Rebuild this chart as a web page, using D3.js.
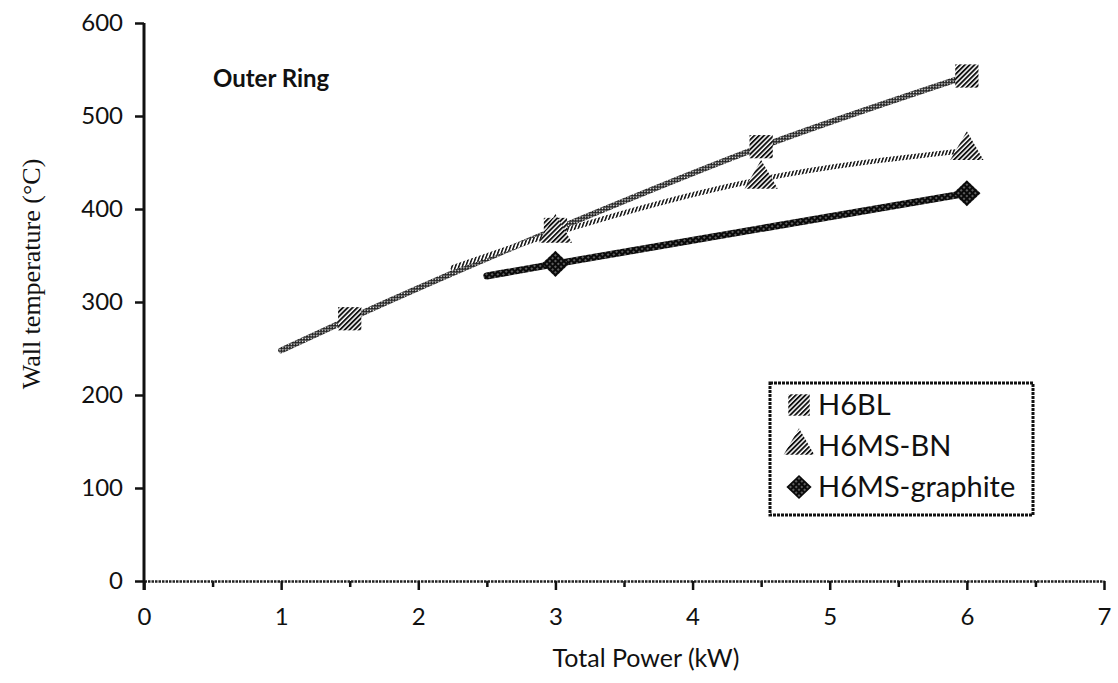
<!DOCTYPE html>
<html>
<head>
<meta charset="utf-8">
<script src="https://cdn.jsdelivr.net/npm/d3@7"></script>
<style>
  body { margin: 0; background: #fff; }
  svg { display: block; }
  text { fill: #111; }
</style>
</head>
<body>
<svg width="1118" height="683"></svg>
<script>
// values
const powerBL = [1, 1.5, 3, 4.5, 6];
const tempBL  = [248, 282, 378, 467, 543];
const markBL  = [0, 1, 1, 1, 1];

const powerBN = [2.25, 3, 4.5, 6];
const tempBN  = [337, 374, 432, 463];
const markBN  = [0, 1, 1, 1];

const powerGR = [2.5, 3, 6];
const tempGR  = [328, 341, 417];
const markGR  = [0, 1, 1];

const seriesNames = ["H6BL", "H6MS-BN", "H6MS-graphite"];
const xTicks = [0, 1, 2, 3, 4, 5, 6, 7];
const xMinor = [0.5, 1.5, 2.5, 3.5, 4.5, 5.5, 6.5];
const yTicks = [0, 100, 200, 300, 400, 500, 600];

const margin = {top: 23, right: 14, bottom: 102, left: 144};
const W = 1118, H = 683;

const svg = d3.select("svg");

const x = d3.scaleLinear().domain([0, 7]).range([margin.left, W - margin.right]);
const y = d3.scaleLinear().domain([0, 600]).range([H - margin.bottom, margin.top]);

// square turned on its corner, a bit wider than d3's diamond
const symbolRhomb = {
  draw(ctx, size) {
    const r = Math.sqrt(size / 2);
    ctx.moveTo(0, -r);
    ctx.lineTo(r * 1.05, 0);
    ctx.lineTo(0, r);
    ctx.lineTo(-r * 1.05, 0);
    ctx.closePath();
  }
};

// textures that imitate the scanned fills
const defs = svg.append("defs");

function stripes(id, angle, on, period) {
  const p = defs.append("pattern")
    .attr("id", id)
    .attr("patternUnits", "userSpaceOnUse")
    .attr("width", period).attr("height", period)
    .attr("patternTransform", `rotate(${angle})`);
  p.append("rect").attr("width", period).attr("height", period).attr("fill", "#fff");
  p.append("rect").attr("width", on).attr("height", period).attr("fill", "#111");
}
stripes("markHatch", 45, 1.9, 3.4);
stripes("lineBN", 20, 1.5, 3.2);

const chk = defs.append("pattern")
  .attr("id", "lineBL")
  .attr("patternUnits", "userSpaceOnUse")
  .attr("width", 4).attr("height", 4)
  .attr("patternTransform", "rotate(45)");
chk.append("rect").attr("width", 4).attr("height", 4).attr("fill", "#222");
chk.append("rect").attr("x", 0.6).attr("y", 0.6).attr("width", 1.4).attr("height", 1.4).attr("fill", "#fff");
chk.append("rect").attr("x", 2.6).attr("y", 2.6).attr("width", 1.4).attr("height", 1.4).attr("fill", "#fff");

const dots = defs.append("pattern")
  .attr("id", "darkDots")
  .attr("patternUnits", "userSpaceOnUse")
  .attr("width", 4).attr("height", 4)
  .attr("patternTransform", "rotate(45)");
dots.append("rect").attr("width", 4).attr("height", 4).attr("fill", "#0a0a0a");
dots.append("circle").attr("cx", 2).attr("cy", 2).attr("r", 0.8).attr("fill", "#ccc");

// axes
const yAxis = svg.append("g")
  .attr("transform", `translate(${margin.left},0)`)
  .call(d3.axisLeft(y).tickValues(yTicks).tickSize(9).tickSizeOuter(0).tickPadding(12));
yAxis.select(".domain").remove();
yAxis.selectAll(".tick line").attr("stroke", "#111").attr("stroke-width", 2.5);
yAxis.selectAll(".tick text")
  .attr("font-family", "Lato, sans-serif").attr("font-size", 24).attr("fill", "#111");

svg.append("line")
  .attr("x1", margin.left).attr("x2", margin.left)
  .attr("y1", y(600)).attr("y2", y(0) + 9)
  .attr("stroke", "#111").attr("stroke-width", 3);

const xMinorAxis = svg.append("g")
  .attr("transform", `translate(0,${y(0)})`)
  .call(d3.axisBottom(x).tickValues(xMinor).tickSize(6).tickFormat(""));
xMinorAxis.select(".domain").remove();
xMinorAxis.selectAll(".tick line").attr("stroke", "#111").attr("stroke-width", 2.5);

const xAxis = svg.append("g")
  .attr("transform", `translate(0,${y(0)})`)
  .call(d3.axisBottom(x).tickValues(xTicks).tickFormat(d3.format("d"))
    .tickSize(9).tickSizeOuter(0).tickPadding(18));
xAxis.select(".domain")
  .attr("stroke", "#222").attr("stroke-width", 2.5).attr("stroke-dasharray", "2.5 1");
xAxis.selectAll(".tick line").attr("stroke", "#111").attr("stroke-width", 2.5);
xAxis.selectAll(".tick text")
  .attr("font-family", "Lato, sans-serif").attr("font-size", 24).attr("fill", "#111");

// titles
svg.append("text")
  .attr("x", (x(0) + x(7)) / 2 + 22).attr("y", 667)
  .attr("text-anchor", "middle")
  .attr("font-family", "Lato, sans-serif").attr("font-size", 25)
  .text("Total Power (kW)");

svg.append("text")
  .attr("transform", `translate(40,${(y(0) + y(600)) / 2 - 28}) rotate(-90)`)
  .attr("text-anchor", "middle")
  .attr("font-family", "Times New Roman, Liberation Serif, DejaVu Serif, serif")
  .attr("font-size", 26)
  .text("Wall temperature (°C)");

svg.append("text")
  .attr("x", 213).attr("y", 87)
  .attr("font-family", "Lato, sans-serif").attr("font-size", 24).attr("font-weight", "bold")
  .text("Outer Ring");

// series
const series = [
  {name: seriesNames[0], pts: powerBL.map((p, i) => ({p, t: tempBL[i], m: markBL[i]})),
   stroke: "url(#lineBL)", width: 6, symbol: d3.symbolSquare, size: 540, fill: "url(#markHatch)"},
  {name: seriesNames[1], pts: powerBN.map((p, i) => ({p, t: tempBN[i], m: markBN[i]})),
   stroke: "url(#lineBN)", width: 5, symbol: d3.symbolTriangle, size: 480, fill: "url(#markHatch)"},
  {name: seriesNames[2], pts: powerGR.map((p, i) => ({p, t: tempGR[i], m: markGR[i]})),
   stroke: "url(#darkDots)", width: 7, symbol: symbolRhomb, size: 340, fill: "url(#darkDots)"}
];

const line = d3.line()
  .x(d => x(d.p))
  .y(d => y(d.t))
  .curve(d3.curveMonotoneX);

const plot = svg.append("g");

series.forEach(s => {
  plot.append("path")
    .datum(s.pts)
    .attr("d", line)
    .attr("fill", "none")
    .attr("stroke", s.stroke)
    .attr("stroke-width", s.width)
    .attr("stroke-linecap", "round");
});

series.forEach(s => {
  plot.selectAll(null)
    .data(s.pts.filter(d => d.m))
    .enter()
      .append("path")
      .attr("transform", d => `translate(${x(d.p)},${y(d.t)})`)
      .attr("d", d3.symbol().type(s.symbol).size(s.size))
      .attr("fill", s.fill);
});

// legend
const legend = svg.append("g").attr("transform", "translate(770,383)");
legend.append("rect")
  .attr("width", 263).attr("height", 132)
  .attr("fill", "#fff")
  .attr("stroke", "#111").attr("stroke-width", 3).attr("stroke-dasharray", "3 1");

series.forEach((s, i) => {
  const row = legend.append("g").attr("transform", `translate(29,${22 + i * 41})`);
  row.append("path")
    .attr("d", d3.symbol().type(s.symbol).size(s.size * 0.85))
    .attr("fill", s.fill);
  row.append("text")
    .attr("x", 19).attr("y", 10)
    .attr("font-family", "Lato, sans-serif").attr("font-size", 29)
    .text(s.name);
});
</script>
</body>
</html>
